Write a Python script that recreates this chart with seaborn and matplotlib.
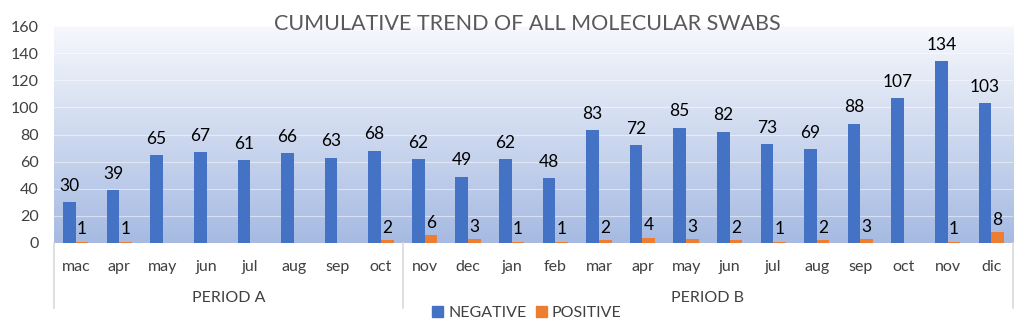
import numpy as np
import pandas as pd
import seaborn as sns
import matplotlib.pyplot as plt
from matplotlib.colors import LinearSegmentedColormap
from matplotlib.lines import Line2D
from matplotlib.patches import Patch

months = ["mac", "apr", "may", "jun", "jul", "aug", "sep", "oct",
          "nov", "dec", "jan", "feb", "mar", "apr", "may", "jun",
          "jul", "aug", "sep", "oct", "nov", "dic"]
negative = [30, 39, 65, 67, 61, 66, 63, 68,
            62, 49, 62, 48, 83, 72, 85, 82, 73, 69, 88, 107, 134, 103]
positive = [1, 1, 0, 0, 0, 0, 0, 2,
            6, 3, 1, 1, 2, 4, 3, 2, 1, 2, 3, 0, 1, 8]
periods = ["PERIOD A", "PERIOD B"]
period_len = [8, 14]

slots = list(range(len(months)))
df = pd.DataFrame({
    "slot": slots * 2,
    "value": negative + positive,
    "result": ["NEGATIVE"] * len(months) + ["POSITIVE"] * len(months),
})

plt.rcParams["font.family"] = ["Lato", "DejaVu Sans"]
fig = plt.figure(figsize=(10.21, 3.24), dpi=100)
ax = fig.add_axes([54 / 1021, 1 - 243 / 324, (1013 - 54) / 1021, (243 - 26) / 324])

# gradient background: blue at the bottom, almost white at the top
cmap = LinearSegmentedColormap.from_list("bg", ["#a6bae2", "#f6f8fc"])
grad = np.linspace(0, 1, 256).reshape(-1, 1)
ax.imshow(grad, aspect="auto", cmap=cmap, origin="lower",
          extent=(-0.5, len(months) - 0.5, 0, 160), zorder=0)

sns.barplot(data=df, x="slot", y="value", hue="result",
            palette=["#4472C4", "#ED7D31"], width=0.58, ax=ax, zorder=2,
            legend=False, saturation=1)

ax.set_xlim(-0.5, len(months) - 0.5)
ax.set_ylim(0, 160)
ax.set_yticks(range(0, 161, 20))
ax.tick_params(axis="y", length=0, pad=11, labelsize=11.5, labelcolor="#404040")
ax.tick_params(axis="x", length=0, pad=12, labelsize=11.5, labelcolor="#404040")
ax.set_xticks(slots)
ax.set_xticklabels(months)
ax.set_xlabel("")
ax.set_ylabel("")
for s in ax.spines.values():
    s.set_visible(False)
for yv in range(20, 161, 20):
    ax.axhline(yv, color="white", lw=0.8, alpha=0.5, zorder=1)

neg_bars, pos_bars = ax.containers[0], ax.containers[1]
ax.bar_label(neg_bars, labels=[str(v) for v in negative], padding=6,
             fontsize=12.5, color="black")
ax.bar_label(pos_bars, labels=[str(v) if v else "" for v in positive], padding=3,
             fontsize=12.5, color="black")

# category group separators and period labels
trans = ax.get_xaxis_transform()
start = -0.5
edges = [start]
for name, n in zip(periods, period_len):
    end = start + n
    ax.text((start + end) / 2, -0.255, name, transform=trans, ha="center",
            va="center", fontsize=11.5, color="#404040")
    edges.append(end)
    start = end
for e in edges:
    ax.add_line(Line2D([e, e], [0, -0.3], transform=trans, color="#d9d9d9",
                       lw=1.2, clip_on=False))

fig.text(0.516, 0.925, "CUMULATIVE TREND OF ALL MOLECULAR SWABS", ha="center",
         va="center", fontsize=15.5, color="#595959")

handles = [Patch(color="#4472C4", label="NEGATIVE"),
           Patch(color="#ED7D31", label="POSITIVE")]
fig.legend(handles=handles, loc="center", bbox_to_anchor=(0.516, 0.035), ncol=2,
           frameon=False, fontsize=11.5, handlelength=0.7, handleheight=0.7,
           handletextpad=0.3, columnspacing=0.6, labelcolor="#404040")

fig.savefig("out.png", dpi=100)
